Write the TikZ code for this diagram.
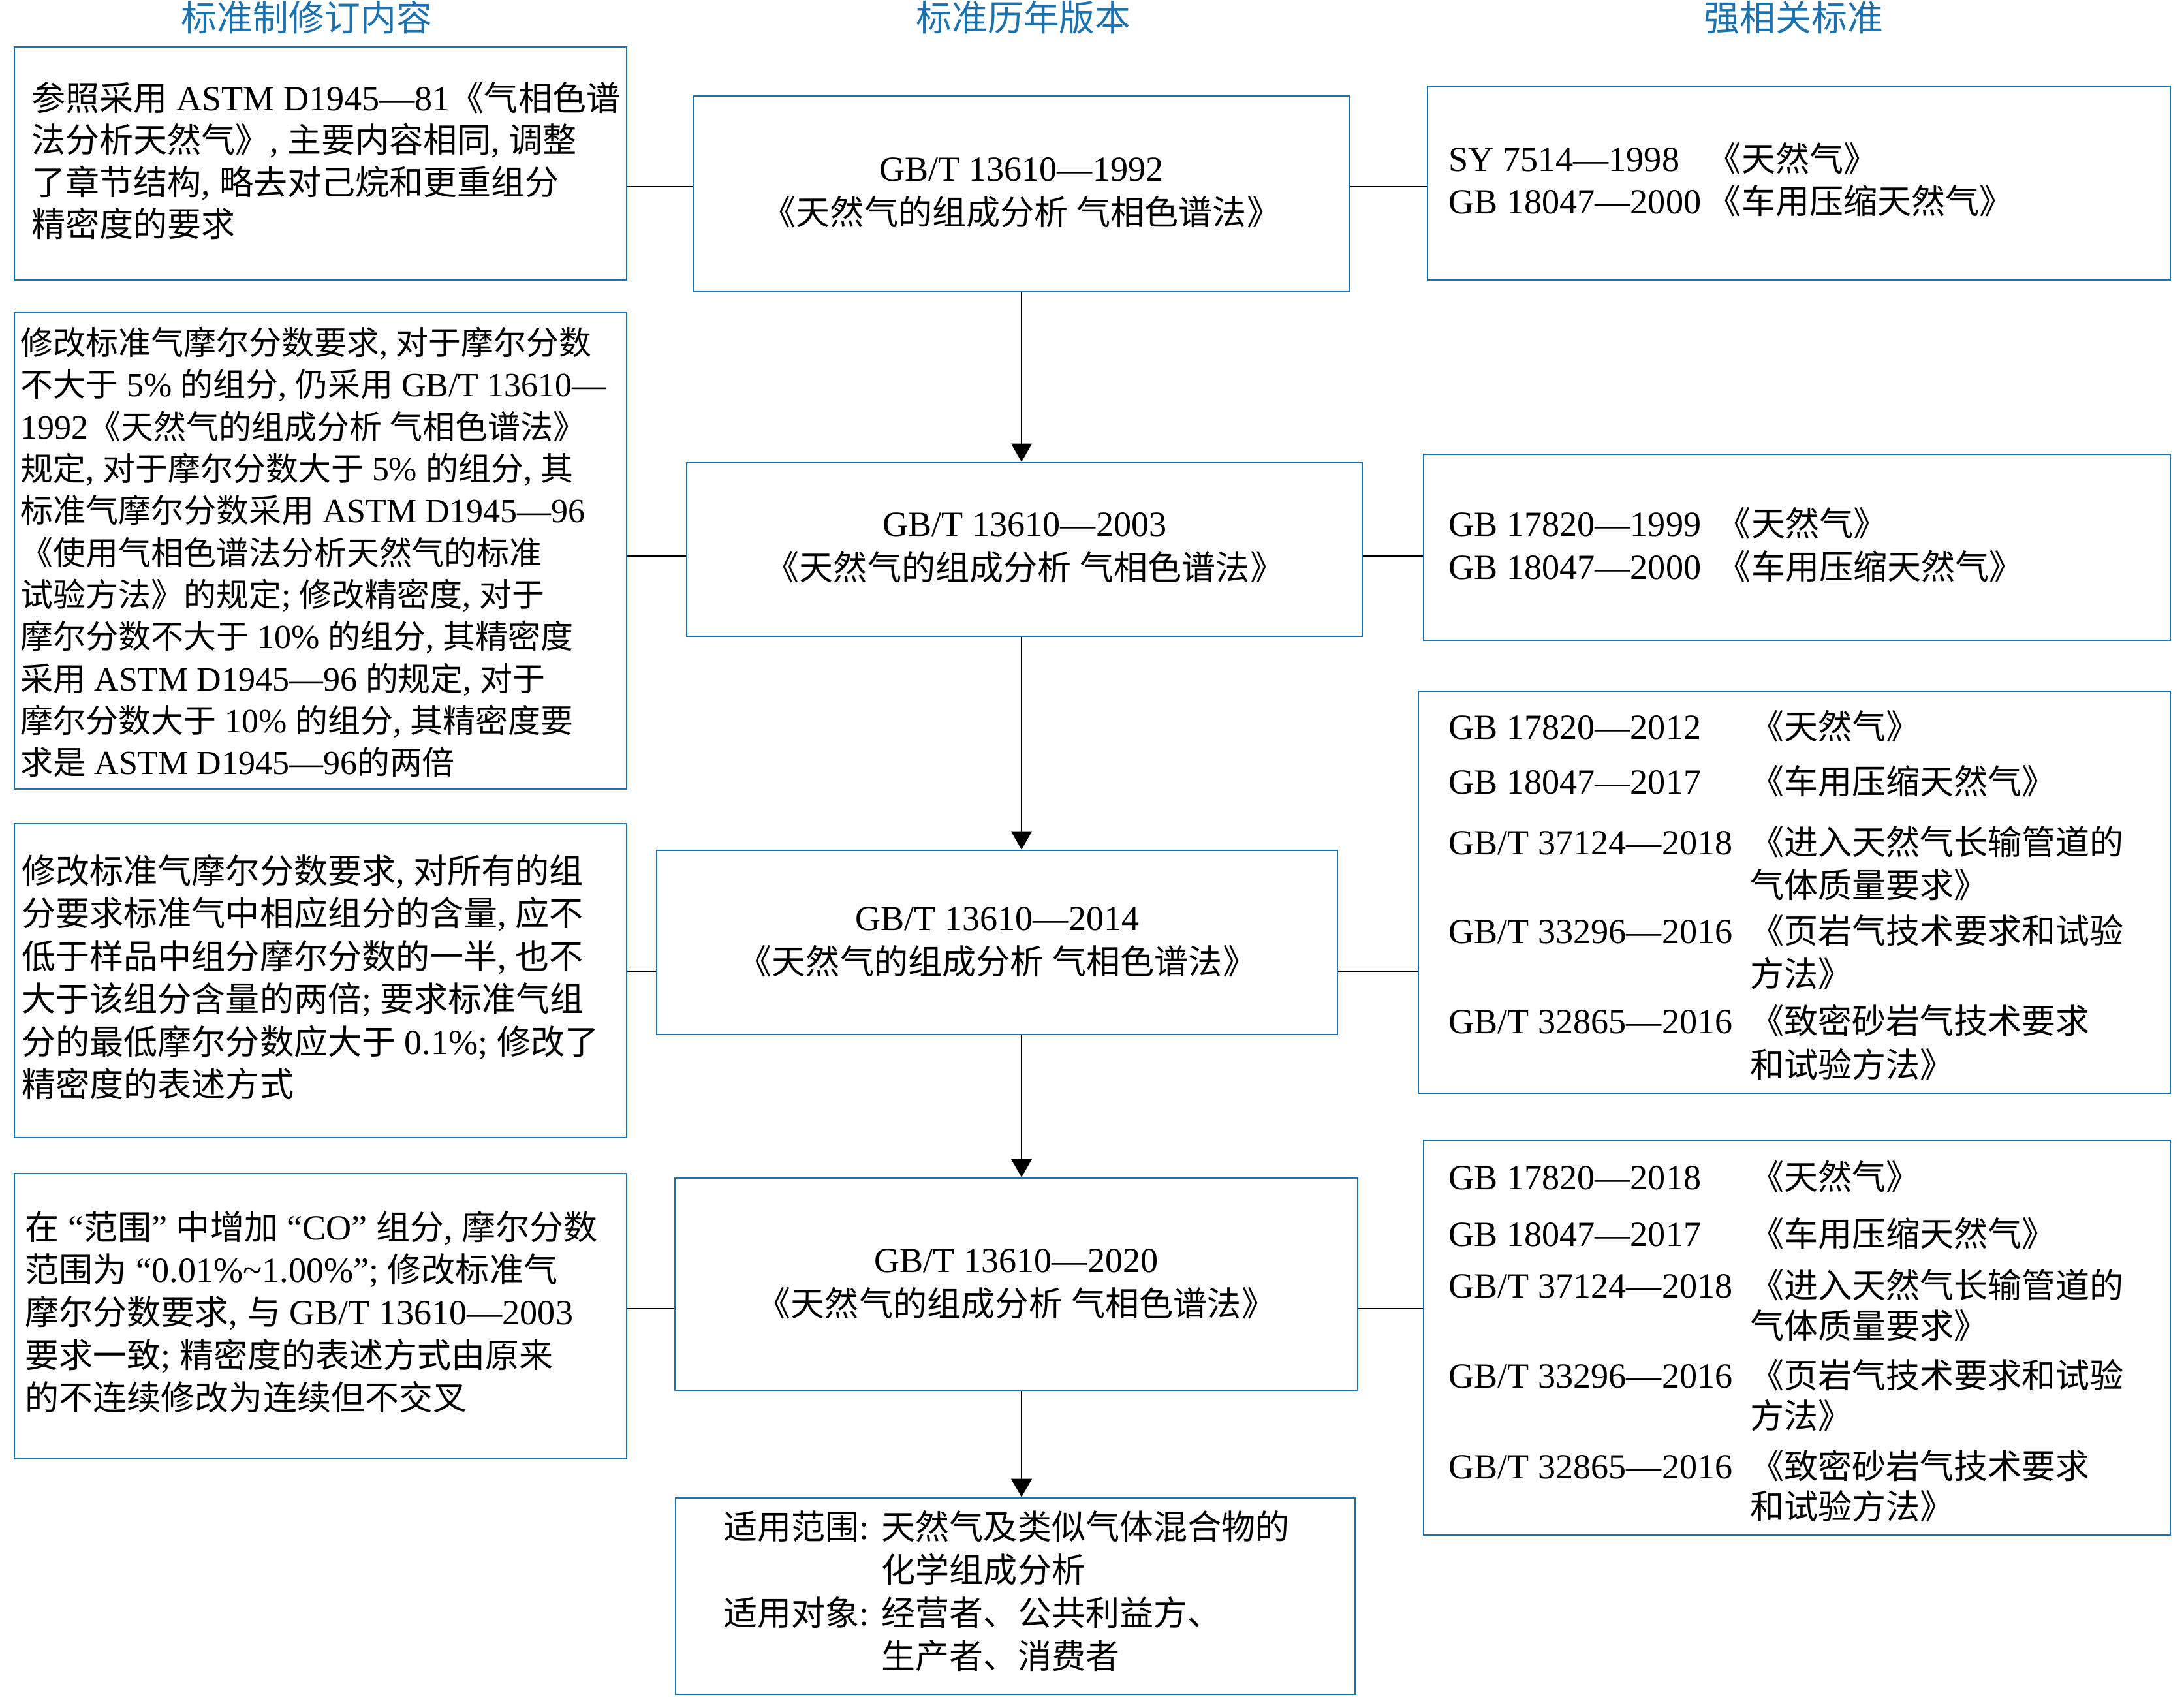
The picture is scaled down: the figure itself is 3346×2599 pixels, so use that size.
\documentclass[tikz,border=0pt]{standalone}
\usepackage{fontspec}
\setmainfont{Liberation Serif}[Scale=1.04]
\newfontfamily\latinfont{Liberation Serif}[Scale=1.04]
\newfontfamily\cjkfont{Noto Sans CJK SC}
\usepackage{array}
\usetikzlibrary{arrows.meta,calc,fit}
\definecolor{boxblue}{RGB}{28,113,175}

\XeTeXinterchartokenstate=1
\makeatletter
\newXeTeXintercharclass\CJKcls
\def\setcjkrange#1#2{\count@=#1\relax\loop\XeTeXcharclass\count@=\CJKcls\relax\advance\count@\@ne\ifnum\count@<#2\relax\repeat}
\setcjkrange{"3000}{"3040}
\setcjkrange{"4E00}{"A000}
\setcjkrange{"FF00}{"FFF0}
\count@=\z@
\loop
  \XeTeXinterchartoks\count@\CJKcls={\cjkfont}%
  \XeTeXinterchartoks\CJKcls\count@={\latinfont}%
  \advance\count@\@ne
\ifnum\count@<\CJKcls\relax\repeat
\XeTeXinterchartoks 4095 \CJKcls={\cjkfont}
\XeTeXinterchartoks \CJKcls 4095 ={\latinfont}
\makeatother

\tikzset{
  box/.style={draw=boxblue, line width=0.72pt, inner sep=0pt, rectangle},
  txt/.style={inner sep=0pt, align=left, anchor=west, text=black},
  ctxt/.style={inner sep=0pt, align=center, text=black, font=\fontsize{14.8}{19.1}\selectfont},
  rtxt/.style={inner sep=0pt, anchor=west, text=black, font=\fontsize{14.8}{18.8}\selectfont},
  conn/.style={line width=0.75pt, draw=black},
  arr/.style={conn, -{Triangle[width=9pt,length=8pt]}},
  hdr/.style={text=boxblue, inner sep=0pt, font=\fontsize{15.6}{18}\selectfont}
}

\begin{document}
\begin{tikzpicture}[x=0.01cm,y=-0.01cm]
\fill[white] (0,0) rectangle (3346,2599);
\useasboundingbox (0,0) rectangle (3346,2599);

% headers
\node[hdr] (H1) at (470,27) {标准制修订内容};
\node[hdr] (H2) at (1568,27) {标准历年版本};
\node[hdr] (H3) at (2748,27) {强相关标准};

% boxes
\node[box, fit={(22,72) (960,429)}] (L1) {};
\node[box, fit={(22,479) (960,1209)}] (L2) {};
\node[box, fit={(22,1262) (960,1743)}] (L3) {};
\node[box, fit={(22,1798) (960,2235)}] (L4) {};

\node[box, fit={(1063,147) (2067,447)}] (C1) {};
\node[box, fit={(1052,709) (2087,975)}] (C2) {};
\node[box, fit={(1006,1303) (2049,1585)}] (C3) {};
\node[box, fit={(1034,1805) (2080,2130)}] (C4) {};
\node[box, fit={(1035,2295) (2076,2596)}] (B) {};

\node[box, fit={(2187,132) (3325,429)}] (R1) {};
\node[box, fit={(2181,696) (3325,981)}] (R2) {};
\node[box, fit={(2173,1059) (3325,1675)}] (R3) {};
\node[box, fit={(2181,1747) (3325,2352)}] (R4) {};

% left texts
\node[txt, font=\fontsize{14.8}{18.3}\selectfont] (L1t) at (48,246)
{参照采用 ASTM D1945—81《气相色谱\\法分析天然气》, 主要内容相同, 调整\\了章节结构, 略去对己烷和更重组分\\精密度的要求};

\node[txt, font=\fontsize{14.2}{18.3}\selectfont] (L2t) at (31,846)
{修改标准气摩尔分数要求, 对于摩尔分数\\
不大于 5\% 的组分, 仍采用 GB/T 13610—\\
1992《天然气的组成分析 气相色谱法》\\
规定, 对于摩尔分数大于 5\% 的组分, 其\\
标准气摩尔分数采用 ASTM D1945—96\\
《使用气相色谱法分析天然气的标准\\
试验方法》的规定; 修改精密度, 对于\\
摩尔分数不大于 10\% 的组分, 其精密度\\
采用 ASTM D1945—96 的规定, 对于\\
摩尔分数大于 10\% 的组分, 其精密度要\\
求是 ASTM D1945—96的两倍};

\node[txt, font=\fontsize{14.8}{18.6}\selectfont] (L3t) at (33,1497)
{修改标准气摩尔分数要求, 对所有的组\\
分要求标准气中相应组分的含量, 应不\\
低于样品中组分摩尔分数的一半, 也不\\
大于该组分含量的两倍; 要求标准气组\\
分的最低摩尔分数应大于 0.1\%; 修改了\\
精密度的表述方式};

\node[txt, font=\fontsize{14.8}{18.6}\selectfont] (L4t) at (38,2010)
{在 “范围” 中增加 “CO” 组分, 摩尔分数\\
范围为 “0.01\%\textasciitilde 1.00\%”; 修改标准气\\
摩尔分数要求, 与 GB/T 13610—2003\\
要求一致; 精密度的表述方式由原来\\
的不连续修改为连续但不交叉};

% center texts
\node[ctxt] (C1t) at (1565,295) {GB/T 13610—1992\\《天然气的组成分析 气相色谱法》};
\node[ctxt] (C2t) at (1570,839) {GB/T 13610—2003\\《天然气的组成分析 气相色谱法》};
\node[ctxt] (C3t) at (1528,1443) {GB/T 13610—2014\\《天然气的组成分析 气相色谱法》};
\node[ctxt] (C4t) at (1557,1967) {GB/T 13610—2020\\《天然气的组成分析 气相色谱法》};

\node[rtxt] (Bt) at (1108,2444) {\begin{tabular}{@{}p{2.42cm}@{}l@{}}
适用范围: & 天然气及类似气体混合物的\\
 & 化学组成分析\\
适用对象: & 经营者、公共利益方、\\
 & 生产者、消费者
\end{tabular}};

% right texts
\node[rtxt, font=\fontsize{14.8}{18.4}\selectfont] (R1t) at (2219,282) {\begin{tabular}{@{}p{3.96cm}@{}l@{}}
SY 7514—1998 & 《天然气》\\
GB 18047—2000 & 《车用压缩天然气》
\end{tabular}};

\node[rtxt] (R2t) at (2219,841) {\begin{tabular}{@{}p{4.11cm}@{}l@{}}
GB 17820—1999 & 《天然气》\\
GB 18047—2000 & 《车用压缩天然气》
\end{tabular}};

\node[rtxt] (R3t) at (2219,1378) {\begin{tabular}{@{}p{4.61cm}@{}l@{}}
GB 17820—2012 & 《天然气》\\[5.1pt]
GB 18047—2017 & 《车用压缩天然气》\\[7.7pt]
GB/T 37124—2018 & 《进入天然气长输管道的\\
 & 气体质量要求》\\[1.1pt]
GB/T 33296—2016 & 《页岩气技术要求和试验\\
 & 方法》\\[1.7pt]
GB/T 32865—2016 & 《致密砂岩气技术要求\\
 & 和试验方法》
\end{tabular}};

\node[rtxt, font=\fontsize{14.8}{17.2}\selectfont] (R4t) at (2219,2062) {\begin{tabular}{@{}p{4.61cm}@{}l@{}}
GB 17820—2018 & 《天然气》\\[7pt]
GB 18047—2017 & 《车用压缩天然气》\\[4.6pt]
GB/T 37124—2018 & 《进入天然气长输管道的\\
 & 气体质量要求》\\[4pt]
GB/T 33296—2016 & 《页岩气技术要求和试验\\
 & 方法》\\[4pt]
GB/T 32865—2016 & 《致密砂岩气技术要求\\
 & 和试验方法》
\end{tabular}};

% connector heights
\coordinate (r1) at (0,286);
\coordinate (r2) at (0,852);
\coordinate (r3) at (0,1488);
\coordinate (r4) at (0,2005);
\coordinate (ax) at (1565,0);

\draw[conn] (L1.east |- r1) -- (C1.west |- r1);
\draw[conn] (C1.east |- r1) -- (R1.west |- r1);
\draw[conn] (L2.east |- r2) -- (C2.west |- r2);
\draw[conn] (C2.east |- r2) -- (R2.west |- r2);
\draw[conn] (L3.east |- r3) -- (C3.west |- r3);
\draw[conn] (C3.east |- r3) -- (R3.west |- r3);
\draw[conn] (L4.east |- r4) -- (C4.west |- r4);
\draw[conn] (C4.east |- r4) -- (R4.west |- r4);

\draw[arr] (C1.south -| ax) -- (C2.north -| ax);
\draw[arr] (C2.south -| ax) -- (C3.north -| ax);
\draw[arr] (C3.south -| ax) -- (C4.north -| ax);
\draw[arr] (C4.south -| ax) -- (B.north -| ax);
\end{tikzpicture}
\end{document}
